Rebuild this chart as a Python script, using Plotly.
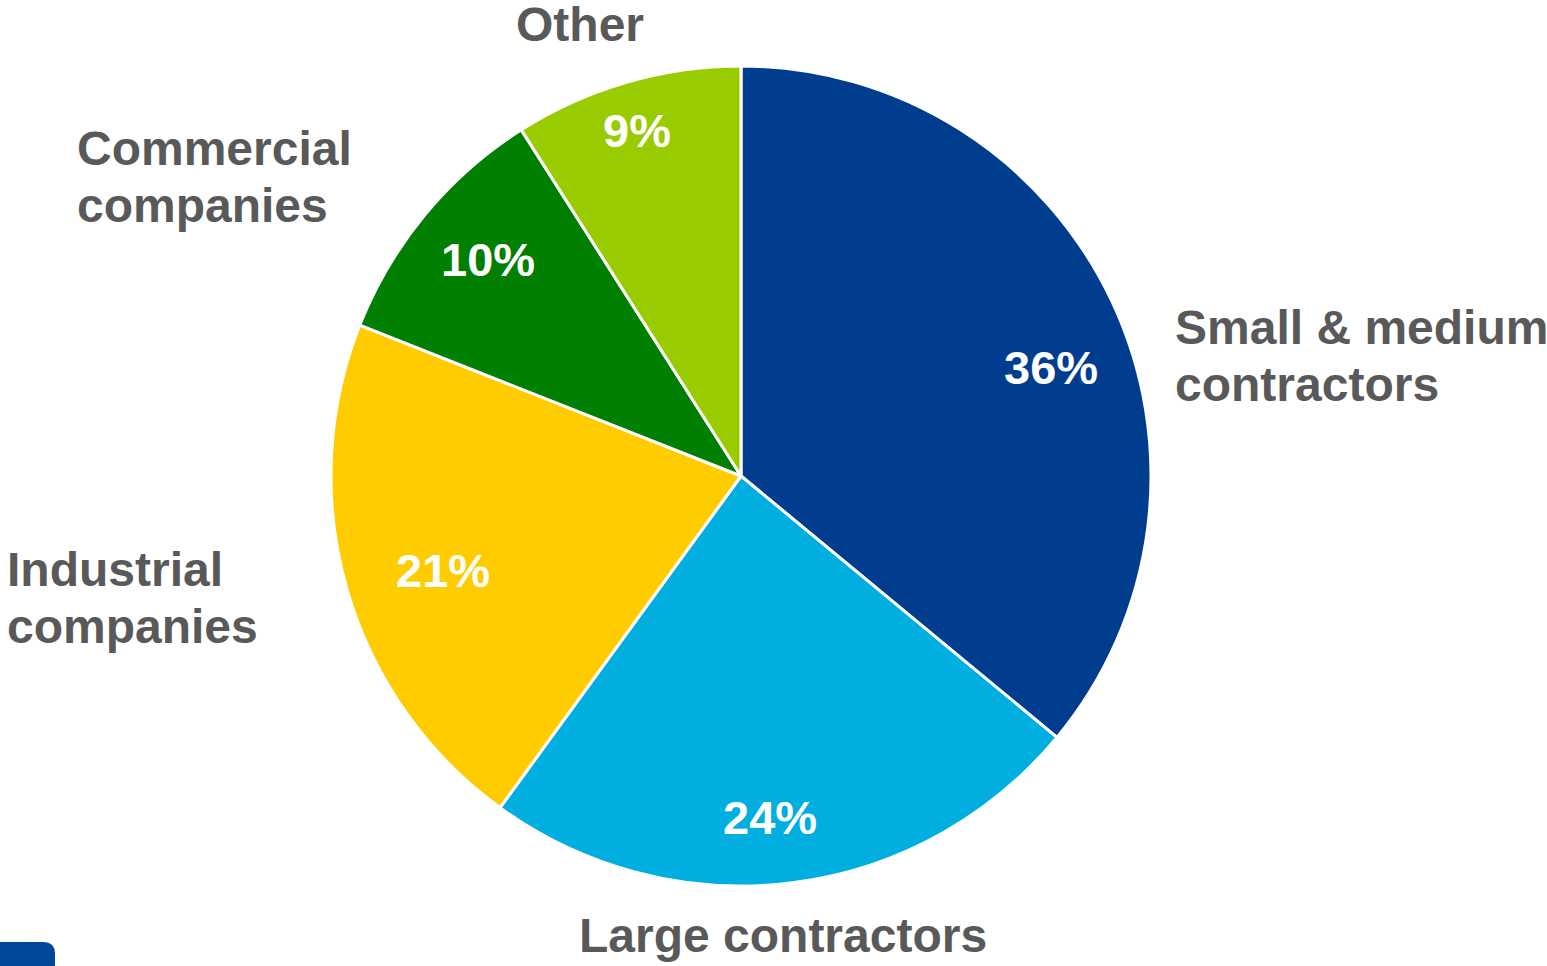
import plotly.graph_objects as go

W, H = 1547, 966

categories = ["Small & medium contractors", "Large contractors", "Industrial companies",
              "Commercial companies", "Other"]
values = [36, 24, 21, 10, 9]
pct_labels = ["36%", "24%", "21%", "10%", "9%"]
colors = ["#003D8F", "#00AFDF", "#FFCC00", "#007F00", "#99CC00"]

# outside label lines (display form) and their block anchor positions in pixels
label_lines = [["Small & medium", "contractors"], ["Large contractors"], ["Industrial", "companies"],
               ["Commercial", "companies"], ["Other"]]
label_pos = [(1173, 356, "left"), (783, 935, "center"), (5, 598, "left"),
             (75, 177, "left"), (580, 25, "center")]
LINE_GAP = 57
# inside percentage label centres in pixels
pct_pos = [(1051, 367), (770, 817), (443, 570), (488, 259), (637, 130)]

cx, cy, r = 741, 476, 410

fig = go.Figure(go.Pie(
    labels=categories,
    values=values,
    textinfo="none",
    sort=False,
    direction="clockwise",
    rotation=0,
    marker=dict(colors=colors, line=dict(color="white", width=3)),
    hoverinfo="label+percent",
    domain=dict(x=[(cx - r) / W, (cx + r) / W], y=[1 - (cy + r) / H, 1 - (cy - r) / H]),
    showlegend=False,
))

for lines, (x, y, anchor) in zip(label_lines, label_pos):
    n = len(lines)
    for i, line in enumerate(lines):
        ly = y + (i - (n - 1) / 2) * LINE_GAP
        fig.add_annotation(
            text=f"<b>{line}</b>", x=x / W, y=1 - ly / H, xref="paper", yref="paper",
            xanchor=anchor, yanchor="middle", align=anchor, showarrow=False,
            font=dict(family="Liberation Sans", size=48, color="#595959"),
        )

for txt, (x, y) in zip(pct_labels, pct_pos):
    fig.add_annotation(
        text=f"<b>{txt}</b>", x=x / W, y=1 - y / H, xref="paper", yref="paper",
        xanchor="center", yanchor="middle", showarrow=False,
        font=dict(family="Liberation Sans", size=47, color="white"),
    )

# decorative corner block bottom-left
x1, y0 = 55 / W, 1 - 942 / H
rx, ry = 12 / W, 12 / H
fig.add_shape(
    type="path", xref="paper", yref="paper",
    path=f"M 0 0 L 0 {y0} L {x1 - rx} {y0} Q {x1} {y0} {x1} {y0 - ry} L {x1} 0 Z",
    fillcolor="#00489A", line=dict(width=0),
)

fig.update_layout(
    width=W, height=H,
    margin=dict(l=0, r=0, t=0, b=0),
    paper_bgcolor="white", plot_bgcolor="white",
)

fig.write_html("out.html")
